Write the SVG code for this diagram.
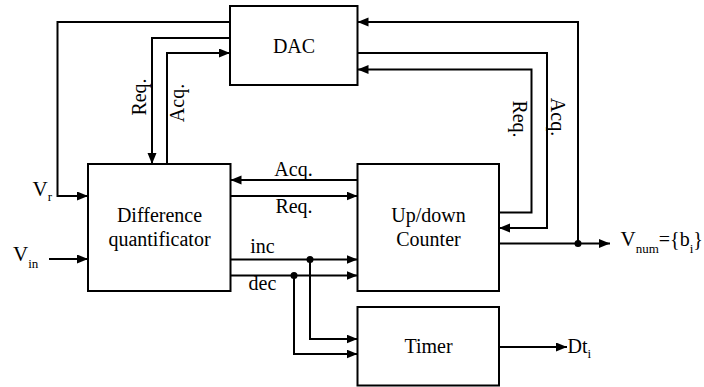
<svg xmlns="http://www.w3.org/2000/svg" width="704" height="387" viewBox="0 0 704 387" font-family="'Liberation Serif', 'DejaVu Serif', serif">
<style>
  .box{fill:#fff;stroke:#000;stroke-width:2}
  .ln{fill:none;stroke:#000;stroke-width:2}
  .arr{marker-end:url(#ah)}
  text{font-family:'Liberation Serif','DejaVu Serif',serif;font-size:20px;fill:#000}
  .c{text-anchor:middle}
  .v{font-size:21px}
  .s{font-size:13px}
  .dot{fill:#000}
</style>
<defs>
  <marker id="ah" markerUnits="userSpaceOnUse" markerWidth="12" markerHeight="10" refX="11" refY="4.5" orient="auto">
    <path d="M0,0 L11,4.5 L0,9 z" fill="#000"/>
  </marker>
</defs>
<rect width="704" height="387" fill="#fff"/>

<g id="connectors">
  <polyline class="ln arr" points="230,22 57.5,22 57.5,196 88,196"/>
  <polyline class="ln arr" points="230,38 152,38 152,164"/>
  <polyline class="ln arr" points="167,164 167,53 230,53"/>
  <line class="ln arr" x1="357.5" y1="180" x2="230.5" y2="180"/>
  <line class="ln arr" x1="230.5" y1="196" x2="357.5" y2="196"/>
  <line class="ln arr" x1="230.5" y1="259.5" x2="357.5" y2="259.5"/>
  <line class="ln arr" x1="230.5" y1="275.5" x2="357.5" y2="275.5"/>
  <polyline class="ln arr" points="310,259.5 310,339 357.5,339"/>
  <polyline class="ln arr" points="294,275.5 294,354 357.5,354"/>
  <line class="ln arr" x1="49" y1="259" x2="88" y2="259"/>
  <polyline class="ln arr" points="499,212.5 531.5,212.5 531.5,69.5 357.5,69.5"/>
  <polyline class="ln arr" points="357.5,53 547,53 547,228 499,228"/>
  <line class="ln arr" x1="499" y1="243.5" x2="610" y2="243.5"/>
  <polyline class="ln arr" points="578,243.5 578,22 357.5,22"/>
  <line class="ln arr" x1="499" y1="347" x2="567" y2="347"/>
  <circle class="dot" cx="310" cy="259.5" r="3.5"/>
  <circle class="dot" cx="294" cy="275.5" r="3.5"/>
  <circle class="dot" cx="578" cy="243.5" r="3.5"/>
</g>

<g id="dac">
  <rect class="box" x="230" y="6" width="127.5" height="79"/>
  <text class="c" x="294" y="52.5">DAC</text>
</g>
<g id="diff">
  <rect class="box" x="88" y="164" width="142.5" height="127"/>
  <text class="c" x="159.5" y="222">Difference</text>
  <text class="c" x="159.5" y="246">quantificator</text>
</g>
<g id="counter">
  <rect class="box" x="357.5" y="164" width="141.5" height="127"/>
  <text class="c" x="428.5" y="222">Up/down</text>
  <text class="c" x="428.5" y="246">Counter</text>
</g>
<g id="timer">
  <rect class="box" x="357.5" y="307" width="141.5" height="78.5"/>
  <text class="c" x="428.5" y="353">Timer</text>
</g>

<g id="labels">
  <text class="c" transform="translate(146,97) rotate(-90)">Req.</text>
  <text class="c" transform="translate(184,103) rotate(-90)">Acq.</text>
  <text class="c" transform="translate(513,119) rotate(90)">Req.</text>
  <text class="c" transform="translate(551,117) rotate(90)">Acq.</text>
  <text class="c" x="293.5" y="176">Acq.</text>
  <text class="c" x="294" y="213">Req.</text>
  <text class="c" x="262.5" y="253">inc</text>
  <text class="c" x="262.5" y="290">dec</text>
  <text x="32.5" y="196"><tspan class="v">V</tspan><tspan class="s" dy="5">r</tspan></text>
  <text x="13" y="261"><tspan class="v">V</tspan><tspan class="s" dy="7">in</tspan></text>
  <text x="620.5" y="246"><tspan class="v">V</tspan><tspan class="s" dy="7">num</tspan><tspan dy="-7">={b</tspan><tspan class="s" dy="7">i</tspan><tspan dy="-7">}</tspan></text>
  <text x="567.5" y="353">Dt<tspan class="s" dy="5">i</tspan></text>
</g>
</svg>
